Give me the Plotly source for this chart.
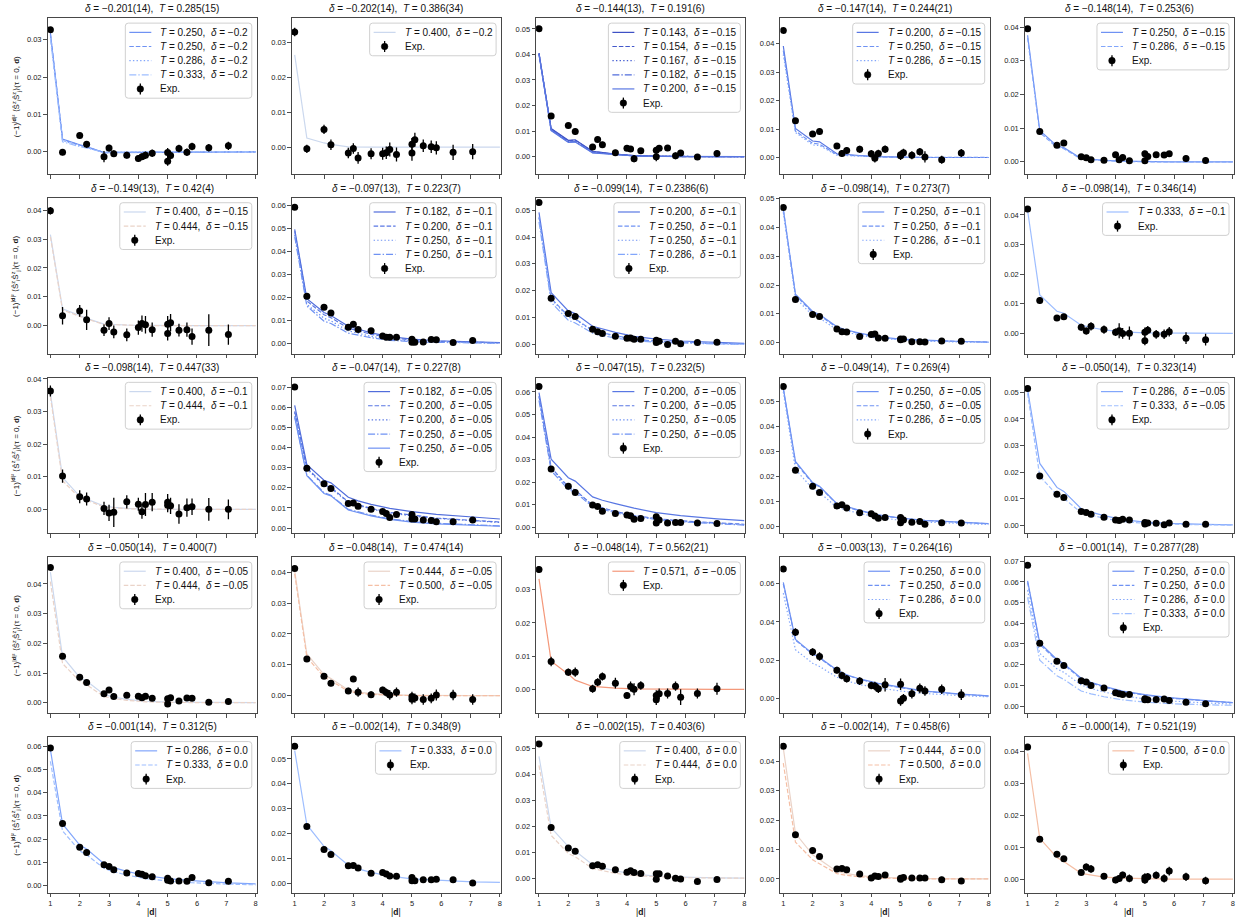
import numpy as np
import plotly.graph_objects as go

# ---------------- data ----------------
EXP_D2 = [1, 2, 4, 5, 8, 9, 10, 13, 16, 17, 18, 20, 25, 25, 26, 29, 32, 34, 41, 50]
TH_D2 = [1, 2, 4, 5, 8, 10, 13, 18, 25, 34, 50, 64]
X_TICKS = [1, 2, 3, 4, 5, 6, 7, 8]

TITLE_DELTA = ["−0.201(14)", "−0.202(14)", "−0.144(13)", "−0.147(14)", "−0.148(14)",
               "−0.149(13)", "−0.097(13)", "−0.099(14)", "−0.098(14)", "−0.098(14)",
               "−0.098(14)", "−0.047(14)", "−0.047(15)", "−0.049(14)", "−0.050(14)",
               "−0.050(14)", "−0.048(14)", "−0.048(14)", "−0.003(13)", "−0.001(14)",
               "−0.001(14)", "−0.002(14)", "−0.002(15)", "−0.002(14)", "−0.000(14)"]
TITLE_T = ["0.285(15)", "0.386(34)", "0.191(6)", "0.244(21)", "0.253(6)",
           "0.42(4)", "0.223(7)", "0.2386(6)", "0.273(7)", "0.346(14)",
           "0.447(33)", "0.227(8)", "0.232(5)", "0.269(4)", "0.323(14)",
           "0.400(7)", "0.474(14)", "0.562(21)", "0.264(16)", "0.2877(28)",
           "0.312(5)", "0.348(9)", "0.403(6)", "0.458(6)", "0.521(19)"]

LINE_DELTA = ["−0.2", "−0.2", "−0.15", "−0.15", "−0.15",
              "−0.15", "−0.1", "−0.1", "−0.1", "−0.1",
              "−0.1", "−0.05", "−0.05", "−0.05", "−0.05",
              "−0.05", "−0.05", "−0.05", "0.0", "0.0",
              "0.0", "0.0", "0.0", "0.0", "0.0"]

LINE_T = [
    ["0.250", "0.250", "0.286", "0.333"],
    ["0.400"],
    ["0.143", "0.154", "0.167", "0.182", "0.200"],
    ["0.200", "0.250", "0.286"],
    ["0.250", "0.286"],
    ["0.400", "0.444"],
    ["0.182", "0.200", "0.250", "0.250"],
    ["0.200", "0.250", "0.250", "0.286"],
    ["0.250", "0.250", "0.286"],
    ["0.333"],
    ["0.400", "0.444"],
    ["0.182", "0.200", "0.200", "0.250", "0.250"],
    ["0.200", "0.200", "0.250", "0.250"],
    ["0.250", "0.250", "0.286"],
    ["0.286", "0.333"],
    ["0.400", "0.444"],
    ["0.444", "0.500"],
    ["0.571"],
    ["0.250", "0.250", "0.286"],
    ["0.250", "0.250", "0.286", "0.333"],
    ["0.286", "0.333"],
    ["0.333"],
    ["0.400", "0.444"],
    ["0.444", "0.500"],
    ["0.500"],
]

LINE_Y = [
    [[0.0318, 0.0034, 0.0019, 0.0014, -0.0002, -0.0002, -0.0001, 0.0000, 0.0000, 0.0000, 0.0000, 0.0000],
     [0.0316, 0.0033, 0.0018, 0.0013, -0.0002, -0.0002, -0.0001, 0.0000, 0.0000, 0.0000, 0.0000, 0.0000],
     [0.0312, 0.0030, 0.0016, 0.0012, -0.0001, -0.0001, -0.0001, 0.0000, 0.0000, 0.0000, 0.0000, 0.0000],
     [0.0305, 0.0027, 0.0014, 0.0010, -0.0001, -0.0001, 0.0000, 0.0000, 0.0000, 0.0000, 0.0000, 0.0000]],
    [[0.0265, 0.0026, 0.0012, 0.0008, 0.0001, 0.0000, 0.0000, 0.0000, 0.0000, 0.0000, 0.0000, 0.0000]],
    [[0.0405, 0.0110, 0.0064, 0.0066, 0.0021, 0.0016, 0.0010, 0.0004, 0.0001, 0.0000, 0.0000, 0.0000],
     [0.0404, 0.0108, 0.0062, 0.0064, 0.0020, 0.0015, 0.0009, 0.0004, 0.0001, 0.0000, 0.0000, 0.0000],
     [0.0403, 0.0106, 0.0060, 0.0062, 0.0018, 0.0014, 0.0008, 0.0003, 0.0001, 0.0000, 0.0000, 0.0000],
     [0.0401, 0.0104, 0.0058, 0.0059, 0.0016, 0.0013, 0.0007, 0.0003, 0.0001, 0.0000, 0.0000, 0.0000],
     [0.0399, 0.0102, 0.0056, 0.0057, 0.0015, 0.0012, 0.0007, 0.0003, 0.0001, 0.0000, 0.0000, 0.0000]],
    [[0.0392, 0.0102, 0.0058, 0.0055, 0.0013, 0.0010, 0.0007, 0.0003, 0.0001, 0.0000, 0.0000, 0.0000],
     [0.0376, 0.0093, 0.0050, 0.0047, 0.0010, 0.0008, 0.0005, 0.0002, 0.0001, 0.0000, 0.0000, 0.0000],
     [0.0362, 0.0088, 0.0044, 0.0042, 0.0008, 0.0006, 0.0004, 0.0002, 0.0000, 0.0000, 0.0000, 0.0000]],
    [[0.0376, 0.0093, 0.0047, 0.0042, 0.0010, 0.0007, 0.0004, 0.0002, 0.0000, 0.0000, 0.0000, 0.0000],
     [0.0368, 0.0087, 0.0043, 0.0039, 0.0008, 0.0006, 0.0003, 0.0001, 0.0000, 0.0000, 0.0000, 0.0000]],
    [[0.0315, 0.0058, 0.0035, 0.0025, 0.0005, 0.0003, 0.0002, 0.0001, 0.0000, 0.0000, 0.0000, 0.0000],
     [0.0308, 0.0054, 0.0032, 0.0023, 0.0004, 0.0003, 0.0001, 0.0000, 0.0000, 0.0000, 0.0000, 0.0000]],
    [[0.0496, 0.0195, 0.0135, 0.0122, 0.0075, 0.0062, 0.0046, 0.0030, 0.0019, 0.0012, 0.0006, 0.0004],
     [0.0488, 0.0185, 0.0125, 0.0112, 0.0067, 0.0055, 0.0040, 0.0025, 0.0016, 0.0010, 0.0005, 0.0003],
     [0.0472, 0.0170, 0.0110, 0.0098, 0.0055, 0.0044, 0.0031, 0.0019, 0.0011, 0.0007, 0.0003, 0.0002],
     [0.0465, 0.0163, 0.0097, 0.0087, 0.0045, 0.0036, 0.0025, 0.0014, 0.0008, 0.0005, 0.0002, 0.0001]],
    [[0.0492, 0.0193, 0.0125, 0.0115, 0.0068, 0.0057, 0.0045, 0.0030, 0.0020, 0.0013, 0.0007, 0.0004],
     [0.0476, 0.0172, 0.0106, 0.0095, 0.0053, 0.0043, 0.0033, 0.0020, 0.0012, 0.0008, 0.0004, 0.0002],
     [0.0471, 0.0169, 0.0102, 0.0093, 0.0051, 0.0041, 0.0031, 0.0019, 0.0011, 0.0007, 0.0003, 0.0002],
     [0.0456, 0.0157, 0.0090, 0.0080, 0.0042, 0.0033, 0.0024, 0.0014, 0.0008, 0.0005, 0.0002, 0.0001]],
    [[0.0465, 0.0168, 0.0108, 0.0098, 0.0055, 0.0044, 0.0033, 0.0020, 0.0012, 0.0008, 0.0004, 0.0002],
     [0.0460, 0.0165, 0.0104, 0.0095, 0.0052, 0.0042, 0.0031, 0.0019, 0.0011, 0.0007, 0.0003, 0.0002],
     [0.0453, 0.0155, 0.0094, 0.0085, 0.0045, 0.0036, 0.0026, 0.0015, 0.0009, 0.0005, 0.0002, 0.0001]],
    [[0.0415, 0.0130, 0.0075, 0.0068, 0.0028, 0.0020, 0.0012, 0.0005, 0.0002, 0.0001, 0.0000, 0.0000]],
    [[0.0356, 0.0098, 0.0040, 0.0032, 0.0010, 0.0006, 0.0003, 0.0001, 0.0000, 0.0000, 0.0000, 0.0000],
     [0.0346, 0.0088, 0.0035, 0.0028, 0.0007, 0.0004, 0.0002, 0.0001, 0.0000, 0.0000, 0.0000, 0.0000]],
    [[0.0610, 0.0315, 0.0238, 0.0225, 0.0153, 0.0135, 0.0118, 0.0098, 0.0082, 0.0068, 0.0055, 0.0045],
     [0.0580, 0.0300, 0.0215, 0.0203, 0.0130, 0.0115, 0.0098, 0.0078, 0.0063, 0.0050, 0.0038, 0.0030],
     [0.0575, 0.0295, 0.0210, 0.0198, 0.0127, 0.0112, 0.0095, 0.0075, 0.0060, 0.0048, 0.0036, 0.0028],
     [0.0557, 0.0263, 0.0176, 0.0163, 0.0093, 0.0079, 0.0064, 0.0046, 0.0033, 0.0024, 0.0016, 0.0011],
     [0.0550, 0.0260, 0.0172, 0.0160, 0.0090, 0.0076, 0.0061, 0.0043, 0.0030, 0.0021, 0.0013, 0.0009]],
    [[0.0597, 0.0302, 0.0220, 0.0205, 0.0135, 0.0120, 0.0105, 0.0085, 0.0065, 0.0052, 0.0038, 0.0030],
     [0.0582, 0.0266, 0.0179, 0.0166, 0.0098, 0.0085, 0.0071, 0.0053, 0.0039, 0.0029, 0.0019, 0.0014],
     [0.0577, 0.0261, 0.0175, 0.0162, 0.0096, 0.0083, 0.0069, 0.0051, 0.0037, 0.0027, 0.0017, 0.0012],
     [0.0562, 0.0251, 0.0168, 0.0155, 0.0091, 0.0079, 0.0065, 0.0048, 0.0035, 0.0025, 0.0015, 0.0010]],
    [[0.0556, 0.0260, 0.0175, 0.0160, 0.0090, 0.0078, 0.0063, 0.0045, 0.0032, 0.0023, 0.0014, 0.0010],
     [0.0551, 0.0255, 0.0172, 0.0158, 0.0088, 0.0076, 0.0061, 0.0044, 0.0031, 0.0022, 0.0013, 0.0009],
     [0.0540, 0.0228, 0.0150, 0.0135, 0.0075, 0.0063, 0.0050, 0.0035, 0.0023, 0.0016, 0.0009, 0.0006]],
    [[0.0510, 0.0233, 0.0143, 0.0128, 0.0063, 0.0050, 0.0037, 0.0022, 0.0013, 0.0008, 0.0004, 0.0002],
     [0.0496, 0.0185, 0.0115, 0.0102, 0.0048, 0.0038, 0.0027, 0.0015, 0.0008, 0.0005, 0.0002, 0.0001]],
    [[0.0440, 0.0155, 0.0085, 0.0073, 0.0028, 0.0019, 0.0011, 0.0005, 0.0002, 0.0001, 0.0000, 0.0000],
     [0.0408, 0.0132, 0.0072, 0.0060, 0.0021, 0.0014, 0.0008, 0.0003, 0.0001, 0.0000, 0.0000, 0.0000]],
    [[0.0405, 0.0135, 0.0068, 0.0055, 0.0018, 0.0011, 0.0006, 0.0002, 0.0001, 0.0000, 0.0000, 0.0000],
     [0.0395, 0.0125, 0.0060, 0.0048, 0.0014, 0.0008, 0.0004, 0.0001, 0.0000, 0.0000, 0.0000, 0.0000]],
    [[0.0332, 0.0085, 0.0046, 0.0028, 0.0009, 0.0006, 0.0004, 0.0002, 0.0001, 0.0000, 0.0000, 0.0000]],
    [[0.0606, 0.0309, 0.0235, 0.0215, 0.0150, 0.0125, 0.0103, 0.0080, 0.0060, 0.0040, 0.0024, 0.0015],
     [0.0598, 0.0305, 0.0232, 0.0212, 0.0147, 0.0123, 0.0101, 0.0078, 0.0058, 0.0039, 0.0023, 0.0014],
     [0.0550, 0.0255, 0.0185, 0.0168, 0.0112, 0.0093, 0.0074, 0.0056, 0.0040, 0.0027, 0.0016, 0.0010]],
    [[0.0605, 0.0305, 0.0225, 0.0205, 0.0135, 0.0115, 0.0095, 0.0072, 0.0055, 0.0041, 0.0026, 0.0017],
     [0.0598, 0.0298, 0.0220, 0.0200, 0.0131, 0.0112, 0.0092, 0.0070, 0.0053, 0.0039, 0.0025, 0.0016],
     [0.0560, 0.0255, 0.0180, 0.0163, 0.0102, 0.0085, 0.0068, 0.0049, 0.0035, 0.0025, 0.0015, 0.0010],
     [0.0525, 0.0222, 0.0146, 0.0129, 0.0073, 0.0059, 0.0045, 0.0030, 0.0019, 0.0012, 0.0006, 0.0004]],
    [[0.0585, 0.0266, 0.0175, 0.0158, 0.0095, 0.0078, 0.0062, 0.0044, 0.0031, 0.0022, 0.0012, 0.0008],
     [0.0535, 0.0236, 0.0150, 0.0133, 0.0075, 0.0060, 0.0046, 0.0031, 0.0020, 0.0013, 0.0007, 0.0004]],
    [[0.0534, 0.0235, 0.0148, 0.0130, 0.0072, 0.0057, 0.0043, 0.0028, 0.0017, 0.0011, 0.0005, 0.0003]],
    [[0.0470, 0.0195, 0.0122, 0.0105, 0.0052, 0.0040, 0.0028, 0.0016, 0.0008, 0.0004, 0.0001, 0.0000],
     [0.0435, 0.0165, 0.0095, 0.0083, 0.0037, 0.0028, 0.0019, 0.0010, 0.0005, 0.0002, 0.0001, 0.0000]],
    [[0.0445, 0.0155, 0.0082, 0.0066, 0.0025, 0.0018, 0.0011, 0.0005, 0.0002, 0.0001, 0.0000, 0.0000],
     [0.0394, 0.0125, 0.0065, 0.0052, 0.0018, 0.0012, 0.0007, 0.0003, 0.0001, 0.0000, 0.0000, 0.0000]],
    [[0.0395, 0.0128, 0.0068, 0.0055, 0.0018, 0.0012, 0.0006, 0.0003, 0.0001, 0.0000, 0.0000, 0.0000]],
]

EXP_Y = [
    [0.0327, -0.0001, 0.0044, 0.0020, -0.0013, 0.0010, -0.0005, -0.0009, -0.0018, -0.0013, -0.0009, -0.0004, -0.0002, -0.0025, -0.0010, 0.0009, -0.0001, 0.0014, 0.0011, 0.0016],
    [0.0331, -0.0005, 0.0051, 0.0007, -0.0017, -0.0004, -0.0031, -0.0019, -0.0019, -0.0016, -0.0007, -0.0021, 0.0008, -0.0017, 0.0021, 0.0004, 0.0001, -0.0002, -0.0015, -0.0013],
    [0.0501, 0.0159, 0.0122, 0.0098, 0.0038, 0.0067, 0.0047, 0.0015, 0.0033, 0.0030, -0.0008, 0.0023, 0.0025, 0.0000, 0.0033, 0.0034, 0.0003, 0.0014, -0.0001, 0.0012],
    [0.0447, 0.0129, 0.0083, 0.0091, 0.0040, 0.0014, 0.0025, 0.0029, 0.0013, -0.0003, 0.0014, 0.0029, 0.0010, 0.0006, 0.0017, 0.0008, 0.0020, 0.0002, -0.0008, 0.0016],
    [0.0395, 0.0090, 0.0049, 0.0056, 0.0015, 0.0012, 0.0006, 0.0005, 0.0021, 0.0006, 0.0013, 0.0003, 0.0024, 0.0003, 0.0016, 0.0021, 0.0020, 0.0024, 0.0010, 0.0004],
    [0.0398, 0.0034, 0.0051, 0.0020, -0.0016, 0.0007, -0.0022, -0.0032, -0.0007, 0.0007, 0.0003, -0.0014, 0.0005, -0.0027, 0.0010, -0.0016, -0.0014, -0.0038, -0.0016, -0.0031],
    [0.0592, 0.0205, 0.0158, 0.0133, 0.0071, 0.0084, 0.0061, 0.0055, 0.0033, 0.0027, 0.0027, 0.0027, 0.0019, 0.0006, 0.0006, 0.0007, 0.0017, 0.0016, 0.0004, 0.0013],
    [0.0528, 0.0172, 0.0115, 0.0104, 0.0057, 0.0047, 0.0041, 0.0031, 0.0023, 0.0024, 0.0019, 0.0019, 0.0016, 0.0007, 0.0012, 0.0000, 0.0012, 0.0003, 0.0007, 0.0008],
    [0.0469, 0.0150, 0.0098, 0.0091, 0.0047, 0.0038, 0.0037, 0.0021, 0.0028, 0.0030, 0.0016, 0.0015, 0.0013, 0.0010, 0.0013, 0.0003, 0.0003, 0.0002, 0.0006, 0.0005],
    [0.0420, 0.0111, 0.0052, 0.0056, 0.0021, 0.0008, 0.0024, 0.0013, 0.0004, 0.0009, 0.0000, 0.0001, -0.0025, 0.0004, 0.0011, -0.0003, -0.0003, 0.0006, -0.0016, -0.0021],
    [0.0363, 0.0102, 0.0039, 0.0032, 0.0003, -0.0011, -0.0009, 0.0023, 0.0016, -0.0007, 0.0015, 0.0022, 0.0022, 0.0013, 0.0011, -0.0014, 0.0005, 0.0008, 0.0000, 0.0000],
    [0.0702, 0.0297, 0.0220, 0.0197, 0.0122, 0.0125, 0.0108, 0.0093, 0.0082, 0.0073, 0.0053, 0.0068, 0.0067, 0.0045, 0.0045, 0.0040, 0.0038, 0.0032, 0.0032, 0.0040],
    [0.0624, 0.0259, 0.0182, 0.0155, 0.0099, 0.0092, 0.0072, 0.0061, 0.0055, 0.0052, 0.0036, 0.0039, 0.0047, 0.0020, 0.0033, 0.0019, 0.0022, 0.0022, 0.0020, 0.0017],
    [0.0561, 0.0224, 0.0160, 0.0135, 0.0081, 0.0086, 0.0073, 0.0053, 0.0049, 0.0040, 0.0031, 0.0034, 0.0034, 0.0013, 0.0024, 0.0015, 0.0018, 0.0007, 0.0013, 0.0012],
    [0.0514, 0.0186, 0.0117, 0.0105, 0.0053, 0.0049, 0.0042, 0.0031, 0.0021, 0.0019, 0.0023, 0.0021, 0.0011, 0.0006, 0.0009, 0.0008, 0.0003, 0.0009, 0.0005, 0.0005],
    [0.0456, 0.0157, 0.0086, 0.0068, 0.0030, 0.0043, 0.0021, 0.0025, 0.0022, 0.0017, 0.0022, 0.0015, 0.0013, -0.0004, 0.0017, 0.0006, 0.0016, 0.0015, 0.0002, 0.0004],
    [0.0413, 0.0119, 0.0063, 0.0040, 0.0015, 0.0054, 0.0011, 0.0003, 0.0018, 0.0010, 0.0002, 0.0011, -0.0003, -0.0012, -0.0008, -0.0013, -0.0009, 0.0002, 0.0002, -0.0013],
    [0.0360, 0.0084, 0.0052, 0.0052, 0.0002, 0.0022, 0.0039, 0.0019, -0.0018, 0.0009, 0.0001, 0.0012, -0.0018, -0.0031, -0.0013, -0.0012, 0.0010, -0.0023, -0.0012, 0.0002],
    [0.0676, 0.0347, 0.0243, 0.0220, 0.0149, 0.0121, 0.0104, 0.0092, 0.0069, 0.0066, 0.0052, 0.0073, 0.0075, -0.0012, 0.0003, 0.0026, 0.0054, 0.0040, 0.0049, 0.0021],
    [0.0680, 0.0304, 0.0217, 0.0196, 0.0122, 0.0116, 0.0100, 0.0087, 0.0064, 0.0060, 0.0056, 0.0056, 0.0035, 0.0031, 0.0031, 0.0032, 0.0034, 0.0027, 0.0018, 0.0011],
    [0.0592, 0.0268, 0.0166, 0.0143, 0.0090, 0.0083, 0.0069, 0.0055, 0.0053, 0.0049, 0.0043, 0.0039, 0.0032, 0.0024, 0.0020, 0.0020, 0.0019, 0.0035, 0.0013, 0.0019],
    [0.0551, 0.0228, 0.0135, 0.0115, 0.0070, 0.0071, 0.0061, 0.0040, 0.0043, 0.0036, 0.0028, 0.0027, 0.0022, 0.0009, 0.0009, 0.0013, 0.0013, 0.0015, 0.0013, 0.0000],
    [0.0518, 0.0196, 0.0117, 0.0104, 0.0048, 0.0052, 0.0046, 0.0033, 0.0023, 0.0029, 0.0022, 0.0018, 0.0017, -0.0004, 0.0017, 0.0009, 0.0000, -0.0003, -0.0013, -0.0005],
    [0.0451, 0.0150, 0.0097, 0.0076, 0.0034, 0.0035, 0.0031, 0.0017, 0.0003, 0.0010, 0.0008, 0.0013, -0.0001, 0.0002, 0.0005, 0.0003, 0.0003, 0.0003, -0.0003, -0.0007],
    [0.0415, 0.0125, 0.0078, 0.0064, 0.0021, 0.0038, 0.0032, 0.0009, -0.0003, 0.0002, 0.0013, 0.0002, -0.0003, 0.0005, 0.0007, 0.0012, 0.0002, 0.0025, 0.0007, -0.0005],
]

EXP_ERR = [
    [0.0007, 0.0008, 0.0008, 0.0009, 0.0015, 0.0009, 0.0009, 0.0009, 0.0009, 0.0009, 0.0010, 0.0010, 0.0012, 0.0012, 0.0010, 0.0010, 0.0010, 0.0010, 0.0010, 0.0011],
    [0.0012, 0.0012, 0.0013, 0.0015, 0.0015, 0.0015, 0.0017, 0.0016, 0.0017, 0.0018, 0.0020, 0.0020, 0.0018, 0.0022, 0.0020, 0.0018, 0.0018, 0.0019, 0.0022, 0.0022],
    [0.0007, 0.0008, 0.0009, 0.0012, 0.0009, 0.0010, 0.0011, 0.0012, 0.0010, 0.0010, 0.0014, 0.0011, 0.0012, 0.0018, 0.0011, 0.0010, 0.0013, 0.0012, 0.0011, 0.0012],
    [0.0009, 0.0010, 0.0010, 0.0011, 0.0010, 0.0012, 0.0012, 0.0012, 0.0013, 0.0015, 0.0013, 0.0013, 0.0014, 0.0015, 0.0014, 0.0014, 0.0013, 0.0020, 0.0014, 0.0014],
    [0.0005, 0.0005, 0.0005, 0.0006, 0.0006, 0.0006, 0.0007, 0.0007, 0.0007, 0.0008, 0.0008, 0.0008, 0.0009, 0.0009, 0.0008, 0.0008, 0.0008, 0.0008, 0.0009, 0.0010],
    [0.0013, 0.0030, 0.0020, 0.0035, 0.0020, 0.0022, 0.0022, 0.0022, 0.0025, 0.0028, 0.0030, 0.0025, 0.0028, 0.0025, 0.0030, 0.0022, 0.0025, 0.0028, 0.0055, 0.0035],
    [0.0008, 0.0010, 0.0009, 0.0010, 0.0008, 0.0009, 0.0010, 0.0009, 0.0008, 0.0009, 0.0009, 0.0009, 0.0012, 0.0010, 0.0010, 0.0010, 0.0010, 0.0010, 0.0010, 0.0011],
    [0.0006, 0.0007, 0.0006, 0.0006, 0.0006, 0.0006, 0.0007, 0.0006, 0.0006, 0.0007, 0.0007, 0.0006, 0.0007, 0.0007, 0.0007, 0.0006, 0.0007, 0.0006, 0.0007, 0.0007],
    [0.0006, 0.0006, 0.0006, 0.0006, 0.0006, 0.0006, 0.0006, 0.0006, 0.0007, 0.0008, 0.0007, 0.0006, 0.0007, 0.0007, 0.0007, 0.0006, 0.0007, 0.0006, 0.0007, 0.0008],
    [0.0008, 0.0012, 0.0010, 0.0010, 0.0012, 0.0012, 0.0014, 0.0014, 0.0013, 0.0025, 0.0018, 0.0022, 0.0015, 0.0016, 0.0014, 0.0015, 0.0016, 0.0016, 0.0020, 0.0020],
    [0.0017, 0.0020, 0.0020, 0.0020, 0.0020, 0.0025, 0.0045, 0.0020, 0.0020, 0.0022, 0.0035, 0.0028, 0.0025, 0.0022, 0.0025, 0.0030, 0.0028, 0.0025, 0.0035, 0.0030],
    [0.0006, 0.0007, 0.0006, 0.0006, 0.0006, 0.0006, 0.0006, 0.0006, 0.0006, 0.0006, 0.0006, 0.0006, 0.0007, 0.0007, 0.0007, 0.0006, 0.0006, 0.0006, 0.0007, 0.0007],
    [0.0005, 0.0006, 0.0005, 0.0005, 0.0005, 0.0005, 0.0005, 0.0005, 0.0005, 0.0006, 0.0006, 0.0006, 0.0007, 0.0006, 0.0006, 0.0006, 0.0006, 0.0006, 0.0006, 0.0006],
    [0.0005, 0.0006, 0.0006, 0.0006, 0.0005, 0.0006, 0.0006, 0.0005, 0.0006, 0.0006, 0.0006, 0.0006, 0.0007, 0.0006, 0.0006, 0.0006, 0.0006, 0.0006, 0.0006, 0.0006],
    [0.0005, 0.0005, 0.0005, 0.0005, 0.0005, 0.0005, 0.0005, 0.0005, 0.0005, 0.0005, 0.0005, 0.0005, 0.0005, 0.0005, 0.0005, 0.0005, 0.0006, 0.0005, 0.0005, 0.0005],
    [0.0007, 0.0007, 0.0007, 0.0008, 0.0008, 0.0008, 0.0008, 0.0008, 0.0008, 0.0008, 0.0008, 0.0008, 0.0009, 0.0009, 0.0008, 0.0008, 0.0008, 0.0008, 0.0009, 0.0009],
    [0.0006, 0.0008, 0.0008, 0.0010, 0.0010, 0.0009, 0.0015, 0.0011, 0.0011, 0.0013, 0.0016, 0.0015, 0.0015, 0.0016, 0.0015, 0.0017, 0.0016, 0.0018, 0.0017, 0.0017],
    [0.0010, 0.0014, 0.0011, 0.0014, 0.0012, 0.0012, 0.0012, 0.0016, 0.0010, 0.0015, 0.0018, 0.0013, 0.0016, 0.0016, 0.0016, 0.0015, 0.0014, 0.0024, 0.0015, 0.0018],
    [0.0013, 0.0020, 0.0020, 0.0022, 0.0018, 0.0020, 0.0020, 0.0020, 0.0020, 0.0022, 0.0022, 0.0035, 0.0030, 0.0025, 0.0022, 0.0025, 0.0025, 0.0025, 0.0025, 0.0028],
    [0.0008, 0.0008, 0.0008, 0.0008, 0.0008, 0.0008, 0.0008, 0.0008, 0.0008, 0.0008, 0.0008, 0.0008, 0.0009, 0.0009, 0.0009, 0.0008, 0.0009, 0.0008, 0.0009, 0.0009],
    [0.0007, 0.0010, 0.0008, 0.0008, 0.0008, 0.0008, 0.0008, 0.0008, 0.0008, 0.0009, 0.0009, 0.0009, 0.0010, 0.0010, 0.0010, 0.0009, 0.0009, 0.0010, 0.0009, 0.0012],
    [0.0006, 0.0007, 0.0007, 0.0007, 0.0007, 0.0007, 0.0007, 0.0007, 0.0007, 0.0007, 0.0007, 0.0007, 0.0008, 0.0008, 0.0008, 0.0008, 0.0008, 0.0007, 0.0008, 0.0009],
    [0.0006, 0.0006, 0.0006, 0.0006, 0.0006, 0.0006, 0.0006, 0.0006, 0.0006, 0.0006, 0.0006, 0.0006, 0.0006, 0.0006, 0.0006, 0.0006, 0.0006, 0.0006, 0.0008, 0.0007],
    [0.0006, 0.0007, 0.0007, 0.0007, 0.0007, 0.0007, 0.0007, 0.0007, 0.0007, 0.0007, 0.0007, 0.0007, 0.0008, 0.0008, 0.0008, 0.0008, 0.0008, 0.0008, 0.0010, 0.0010],
    [0.0005, 0.0008, 0.0008, 0.0008, 0.0008, 0.0011, 0.0012, 0.0010, 0.0010, 0.0011, 0.0010, 0.0012, 0.0012, 0.0013, 0.0012, 0.0012, 0.0013, 0.0014, 0.0013, 0.0012],
]

Y_RANGE = [
    [-0.0060, 0.0357], [-0.0078, 0.0370], [-0.0069, 0.0541], [-0.0059, 0.0489], [-0.0037, 0.0426],
    [-0.0098, 0.0442], [-0.0045, 0.0632], [-0.0035, 0.0545], [-0.0039, 0.0502], [-0.0069, 0.0457],
    [-0.0074, 0.0404], [-0.0027, 0.0748], [-0.0027, 0.0663], [-0.0030, 0.0597], [-0.0030, 0.0555],
    [-0.0035, 0.0490], [-0.0057, 0.0449], [-0.0071, 0.0397], [-0.0075, 0.0737], [-0.0034, 0.0719],
    [-0.0030, 0.0640], [-0.0039, 0.0589], [-0.0056, 0.0545], [-0.0047, 0.0483], [-0.0043, 0.0447],
]
Y_DTICK = [0.01] * 18 + [0.02] + [0.01] * 6

# ---------------- styling ----------------
T_COLORS = {
    "0.143": "#3e51c5", "0.154": "#4358cb", "0.167": "#4a62d3", "0.182": "#516ddb",
    "0.200": "#5977e3", "0.250": "#6f92f3", "0.286": "#82a6fb", "0.333": "#9ebeff",
    "0.400": "#cbd8ee", "0.444": "#ead3c8", "0.500": "#f5bfa5", "0.571": "#f4987a",
}
DASHES = ["solid", "4.5px,2px", "1.4px,2.2px", "7px,2px,1.4px,2px", "solid"]
FONT = "Liberation Sans, Arial, Helvetica, sans-serif"

W, H = 1238, 922
L0, PW, DX = 47.5, 209.5, 244.5
T0, PH, DY = 14.5, 156.5, 180.4

exp_d = np.sqrt(EXP_D2)
th_d = np.sqrt(TH_D2)

CW = {' ': 0.278, '\u00a0': 0.278, ',': 0.278, '.': 0.278, '=': 0.584, '−': 0.584,
      'T': 0.611, 'δ': 0.556, 'E': 0.667, 'x': 0.5, 'p': 0.556, '(': 0.333, ')': 0.333}


def text_w(s, size):
    return sum(CW.get(ch, 0.556) for ch in s) * size


def px(x):
    return x / W


def py(y):
    return 1 - y / H


fig = go.Figure()
layout = dict(width=W, height=H, margin=dict(l=0, r=0, t=0, b=0),
              paper_bgcolor="white", plot_bgcolor="white", showlegend=False,
              font=dict(family=FONT, size=8, color="#222222"))
shapes = []
annotations = []

for k in range(25):
    r, c = divmod(k, 5)
    left = L0 + c * DX
    right = left + PW
    top = T0 + r * DY
    bottom = top + PH
    s = "" if k == 0 else str(k + 1)
    axis_common = dict(ticks="outside", ticklen=3.5, tickwidth=0.8, tickcolor="#222222",
                       showline=True, linecolor="#333333", linewidth=0.9, mirror=True,
                       showgrid=False, zeroline=False, tickfont=dict(size=7.5, family=FONT))
    layout["xaxis" + s] = dict(domain=[px(left), px(right)], anchor="y" + s,
                               range=[0.9, 8.04], tickmode="array", tickvals=X_TICKS,
                               ticktext=[str(v) for v in X_TICKS], showticklabels=(r == 4),
                               **axis_common)
    layout["yaxis" + s] = dict(domain=[py(bottom), py(top)], anchor="x" + s,
                               range=Y_RANGE[k], dtick=Y_DTICK[k], tick0=0, tickformat=".2f",
                               **axis_common)

    for j, (t, ys) in enumerate(zip(LINE_T[k], LINE_Y[k])):
        fig.add_trace(go.Scatter(x=th_d, y=ys, mode="lines",
                                 line=dict(color=T_COLORS[t], width=1.2, dash=DASHES[j]),
                                 xaxis="x" + s, yaxis="y" + s, showlegend=False,
                                 hoverinfo="skip"))
    fig.add_trace(go.Scatter(x=exp_d, y=EXP_Y[k], mode="markers",
                             marker=dict(color="black", size=7),
                             error_y=dict(type="data", array=EXP_ERR[k], visible=True,
                                          thickness=1.3, width=0, color="black"),
                             xaxis="x" + s, yaxis="y" + s, showlegend=False))

    # title
    annotations.append(dict(text=f"<i>δ</i> = {TITLE_DELTA[k]},\u00a0 <i>T</i> = {TITLE_T[k]}",
                            x=px((left + right) / 2), y=py(top - 2.5), xref="paper", yref="paper",
                            xanchor="center", yanchor="bottom", showarrow=False,
                            font=dict(size=10, family=FONT, color="#111111")))
    if c == 0:
        annotations.append(dict(text="(−1)<sup>|<b>d</b>|²</sup> ⟨Ŝ<sup>z</sup><sub>i</sub>Ŝ<sup>z</sup><sub>j</sub>⟩(τ = 0, <b>d</b>)",
                                x=px(16), y=py((top + bottom) / 2), xref="paper", yref="paper",
                                xanchor="center", yanchor="middle", textangle=-90, showarrow=False,
                                font=dict(size=8, family=FONT, color="#111111")))
    if r == 4:
        annotations.append(dict(text="|<b>d</b>|", x=px((left + right) / 2), y=py(912),
                                xref="paper", yref="paper", xanchor="center", yanchor="middle",
                                showarrow=False, font=dict(size=8.5, family=FONT, color="#111111")))

    # legend (drawn manually to match matplotlib spacing)
    plain = [f"T = {t},\u00a0 δ = {LINE_DELTA[k]}" for t in LINE_T[k]] + ["Exp."]
    html = [f"<i>T</i> = {t},\u00a0 <i>δ</i> = {LINE_DELTA[k]}" for t in LINE_T[k]] + ["Exp."]
    n = len(plain)
    bw = 33 + max(text_w(p, 10) for p in plain) + 6
    bh = 18.6 + 14.2 * (n - 1)
    bx1 = right - 5
    bx0 = bx1 - bw
    by0 = top + 4.7
    by1 = by0 + bh
    rx, ry = 3 / W, 3 / H
    X0, X1, Y0, Y1 = px(bx0), px(bx1), py(by1), py(by0)
    path = (f"M {X0+rx},{Y0} L {X1-rx},{Y0} Q {X1},{Y0} {X1},{Y0+ry} L {X1},{Y1-ry} "
            f"Q {X1},{Y1} {X1-rx},{Y1} L {X0+rx},{Y1} Q {X0},{Y1} {X0},{Y1-ry} "
            f"L {X0},{Y0+ry} Q {X0},{Y0} {X0+rx},{Y0} Z")
    shapes.append(dict(type="path", path=path, xref="paper", yref="paper",
                       line=dict(color="#d0d0d0", width=1), fillcolor="rgba(255,255,255,0.85)",
                       layer="above"))
    for j in range(n):
        cy = by0 + 9.3 + 14.2 * j
        if j < n - 1:
            t = LINE_T[k][j]
            shapes.append(dict(type="line", xref="paper", yref="paper",
                               x0=px(bx0 + 4), x1=px(bx0 + 26), y0=py(cy), y1=py(cy),
                               line=dict(color=T_COLORS[t], width=1.2, dash=DASHES[j]),
                               layer="above"))
        else:
            cx = bx0 + 15
            shapes.append(dict(type="line", xref="paper", yref="paper",
                               x0=px(cx), x1=px(cx), y0=py(cy - 5.5), y1=py(cy + 5.5),
                               line=dict(color="black", width=1.3), layer="above"))
            shapes.append(dict(type="circle", xref="paper", yref="paper",
                               x0=px(cx - 3.3), x1=px(cx + 3.3), y0=py(cy + 3.3), y1=py(cy - 3.3),
                               line=dict(color="black", width=0.5), fillcolor="black",
                               layer="above"))
        annotations.append(dict(text=html[j], x=px(bx0 + 33), y=py(cy), xref="paper", yref="paper",
                                xanchor="left", yanchor="middle", showarrow=False,
                                font=dict(size=10, family=FONT, color="#111111")))

layout["shapes"] = shapes
layout["annotations"] = annotations
fig.update_layout(**layout)
fig.write_html("out.html",
               config={"displayModeBar": False, "staticPlot": True},
               post_script="document.body.style.margin='0';document.body.style.overflow='hidden';")
